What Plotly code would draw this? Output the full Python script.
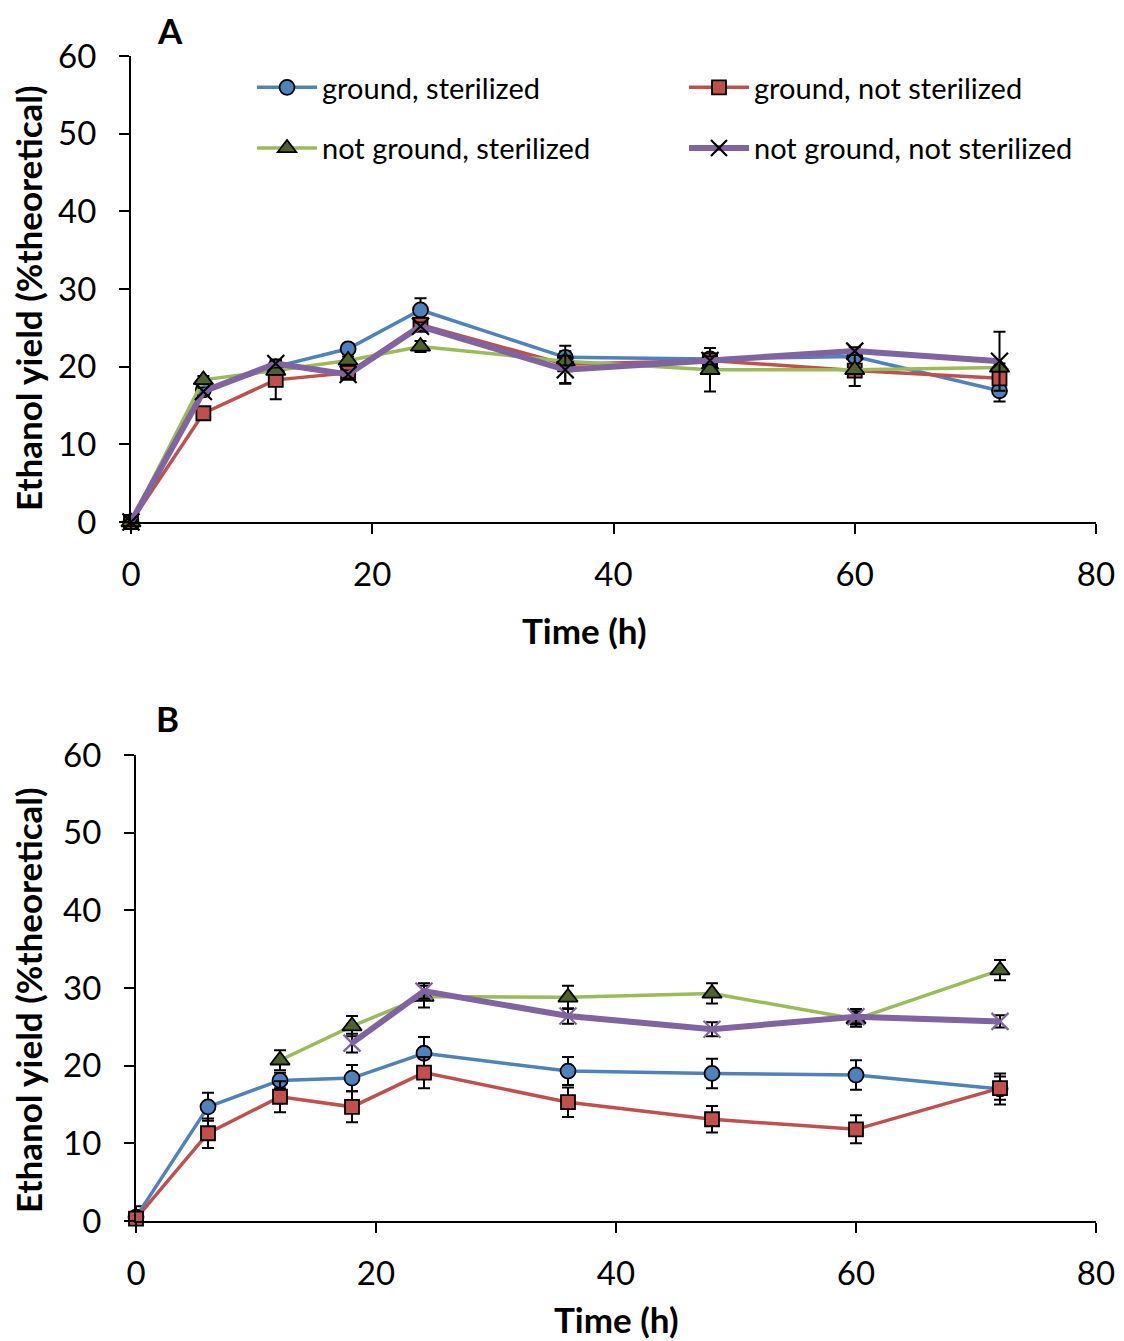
import plotly.graph_objects as go

# The page body adds an 8px offset, so the figure is sized to the visible area
OFF = 8
W, H = 1124 - OFF, 1341 - OFF

time = [0, 6, 12, 18, 24, 36, 48, 60, 72]
series_names = ["ground, sterilized", "ground, not sterilized",
                "not ground, sterilized", "not ground, not sterilized"]

# Panel A
a_gs = [0, 17.0, 20.0, 22.3, 27.3, 21.2, 21.0, 21.3, 16.9]
a_gs_err = [0, 0.5, 0.5, 0.5, 1.5, 0.8, 0.5, 0.5, 1.4]
a_gns = [0, 14.0, 18.3, 19.2, 25.4, 20.3, 20.8, 19.5, 18.5]
a_gns_err = [0, 0.5, 2.5, 0.5, 0.6, 2.4, 1.6, 0.5, 0.5]
a_ngs = [0, 18.3, 19.5, 20.8, 22.6, 20.7, 19.6, 19.6, 19.9]
a_ngs_err = [0, 0.5, 0.5, 0.5, 0.7, 0.5, 2.8, 2.1, 0.5]
a_ngns = [0, 16.8, 20.4, 19.0, 25.2, 19.6, 20.8, 22.0, 20.7]
a_ngns_err = [0, 0.5, 0.5, 0.5, 0.5, 1.8, 0.5, 0.5, 3.8]

# Panel B
b_gs = [0.5, 14.7, 18.1, 18.4, 21.6, 19.3, 19.0, 18.8, 17.0]
b_gs_err = [1.4, 1.8, 1.0, 1.7, 2.1, 1.8, 1.9, 1.9, 2.0]
b_gns = [0.3, 11.3, 16.0, 14.7, 19.1, 15.3, 13.1, 11.8, 17.1]
b_gns_err = [0.5, 1.9, 2.0, 2.0, 2.0, 1.9, 1.7, 1.8, 1.5]
b_ngs = [None, None, 20.7, 25.1, 28.9, 28.8, 29.3, 26.0, 32.3]
b_ngs_err = [0, 0, 1.3, 1.3, 1.4, 1.5, 1.3, 1.0, 1.3]
b_ngns = [None, None, None, 22.9, 29.6, 26.4, 24.7, 26.3, 25.7]
b_ngns_err = [0, 0, 0, 1.2, 1.0, 1.0, 0.9, 1.0, 0.8]

FONT = "Lato"
BLUE, RED, GREEN, PURPLE = "#4F81BD", "#C0504D", "#9BBB59", "#8064A2"
GREEN_FILL = "#4F6228"

styles = [
    dict(color=BLUE, lw=3.5, symbol="circle", fill=BLUE, size=15, legend="legend"),
    dict(color=RED, lw=3.5, symbol="square", fill=RED, size=14, legend="legend2"),
    dict(color=GREEN, lw=3.5, symbol="triangle-up", fill=GREEN_FILL, size=17, legend="legend"),
    dict(color=PURPLE, lw=6, symbol="x-thin", fill=PURPLE, size=17, legend="legend2"),
]

fig = go.Figure()

def add_panel(ys, errs, xa, ya, showlegend, xcolor):
    for i, (y, e) in enumerate(zip(ys, errs)):
        s = styles[i]
        if s["symbol"] == "x-thin":
            marker = dict(symbol="x-thin", size=s["size"],
                          line=dict(color=xcolor, width=2.2), color=xcolor)
        else:
            marker = dict(symbol=s["symbol"], size=s["size"], color=s["fill"],
                          line=dict(color="black", width=1.8))
        fig.add_trace(go.Scatter(
            x=time, y=y, mode="lines+markers", name=series_names[i],
            line=dict(color=s["color"], width=s["lw"]),
            marker=marker,
            error_y=dict(type="data", array=e, visible=True, color="black",
                         thickness=2, width=6),
            xaxis=xa, yaxis=ya, cliponaxis=False, connectgaps=False,
            showlegend=showlegend, legend=s["legend"], legendgroup=f"g{i}",
        ))

add_panel([a_gs, a_gns, a_ngs, a_ngns],
          [a_gs_err, a_gns_err, a_ngs_err, a_ngns_err], "x", "y", True, "black")
add_panel([b_gs, b_gns, b_ngs, b_ngns],
          [b_gs_err, b_gns_err, b_ngs_err, b_ngns_err], "x2", "y2", False, PURPLE)

def px_x(p):
    return (p - OFF) / W

def px_y(p):
    return 1 - (p - OFF) / H

axis_common = dict(showline=True, linecolor="black", linewidth=2, ticks="outside",
                   ticklen=10, tickwidth=2, tickcolor="black", showgrid=False,
                   zeroline=False, automargin=False,
                   tickfont=dict(family=FONT, size=33, color="black"))

legend_common = dict(xanchor="left", yanchor="top", bgcolor="rgba(0,0,0,0)",
                     itemwidth=60, tracegroupgap=20,
                     font=dict(family=FONT, size=29, color="black"))

fig.update_layout(
    width=W, height=H,
    margin=dict(l=0, r=0, t=0, b=0, autoexpand=False),
    paper_bgcolor="white", plot_bgcolor="white",
    font=dict(family=FONT, color="black"),
    xaxis=dict(domain=[px_x(131), px_x(1096)], range=[0, 80], dtick=20,
               anchor="y", ticklabelstandoff=12, **axis_common),
    yaxis=dict(domain=[px_y(522), px_y(56)], range=[0, 60], dtick=10,
               anchor="x", ticklabelstandoff=16, **axis_common),
    xaxis2=dict(domain=[px_x(136), px_x(1096)], range=[0, 80], dtick=20,
                anchor="y2", ticklabelstandoff=12, **axis_common),
    yaxis2=dict(domain=[px_y(1221), px_y(755)], range=[0, 60], dtick=10,
                anchor="x2", ticklabelstandoff=16, **axis_common),
    legend=dict(x=px_x(252), y=px_y(62), **legend_common),
    legend2=dict(x=px_x(684), y=px_y(62), **legend_common),
)

title_font = dict(family=FONT, size=35, color="black")
ann = [
    dict(text="<b>A</b>", x=px_x(170), y=1, yanchor="top"),
    dict(text="<b>B</b>", x=px_x(167), y=px_y(718)),
    dict(text="<b>Time (h)</b>", x=px_x(584), y=px_y(630)),
    dict(text="<b>Time (h)</b>", x=px_x(616), y=0, yanchor="bottom"),
    dict(text="<b>Ethanol yield (%theoretical)</b>", x=px_x(28), y=px_y(298), textangle=-90),
    dict(text="<b>Ethanol yield (%theoretical)</b>", x=px_x(28), y=px_y(1000), textangle=-90),
]
for a in ann:
    a.setdefault("yanchor", "middle")
    fig.add_annotation(xref="paper", yref="paper", showarrow=False, borderpad=0,
                       xanchor="center", font=title_font, **a)

fig.write_html("out.html")
